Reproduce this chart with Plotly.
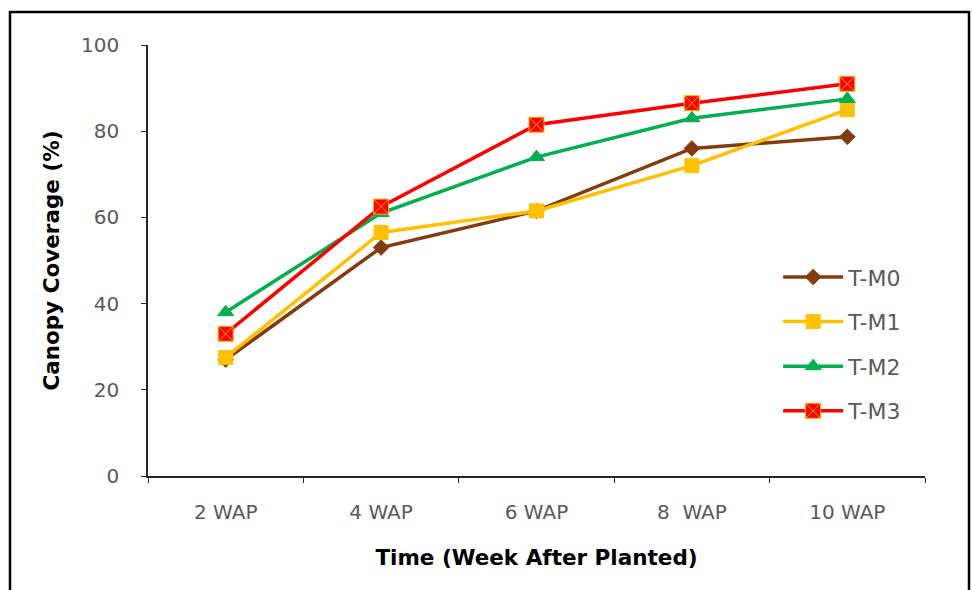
import plotly.graph_objects as go

categories = ["2 WAP", "4 WAP", "6 WAP", "8  WAP", "10 WAP"]
series_names = ["T-M0", "T-M1", "T-M2", "T-M3"]
t_m0 = [27.0, 53.0, 61.5, 76.0, 78.7]
t_m1 = [27.5, 56.5, 61.5, 72.0, 85.0]
t_m2 = [38.0, 61.0, 74.0, 83.0, 87.5]
t_m3 = [33.0, 62.5, 81.5, 86.5, 91.0]
y_ticks = [0, 20, 40, 60, 80, 100]

colors = ["#843C0C", "#FFC000", "#00B050", "#FF0000"]
symbols = ["diamond", "square", "triangle-up", "square-x"]
sizes = [12, 14, 14, 15]
line_cols = ["#843C0C", "#FFC000", "#00B050", "#FFB000"]

fig = go.Figure()
for name, vals, c, s, sz, lc in zip(series_names, [t_m0, t_m1, t_m2, t_m3], colors, symbols, sizes, line_cols):
    fig.add_trace(go.Scatter(
        x=categories, y=vals, name=name, legendgroup=name, mode="lines+markers",
        line=dict(color=c, width=3.5),
        marker=dict(symbol=s, size=sz, color=c, line=dict(color=lc, width=1)),
    ))

font_family = "'DejaVu Sans', sans-serif"
fig.update_layout(
    width=973, height=590,
    margin=dict(l=148, r=48, t=45, b=114),
    paper_bgcolor="white", plot_bgcolor="white",
    font=dict(family=font_family, color="#595959", size=20),
    showlegend=True,
    legend=dict(x=0.811, y=0.51, xanchor="left", yanchor="top",
                font=dict(size=22, color="#595959", family=font_family),
                bgcolor="rgba(0,0,0,0)", tracegroupgap=13, itemwidth=60),
    xaxis=dict(
        type="category", showgrid=False, showline=True, linecolor="#262626", linewidth=1.5,
        ticks="outside", tickson="boundaries", ticklen=5, tickcolor="#262626",
        ticklabelstandoff=17,
        tickfont=dict(size=20, color="#595959", family=font_family),
        title=dict(text="<b>Time (Week After Planted)</b>", font=dict(size=21.5, color="black", family=font_family), standoff=27),
        range=[-0.5, 4.5],
    ),
    yaxis=dict(
        range=[0, 100], tickvals=y_ticks, showgrid=False, zeroline=False,
        showline=True, linecolor="#262626", linewidth=1.5,
        ticks="outside", ticklen=5, tickcolor="#262626", ticklabelstandoff=18,
        tickfont=dict(size=20, color="#595959", family=font_family),
        title=dict(text="<b>Canopy Coverage (%)</b>", font=dict(size=21.5, color="black", family=font_family), standoff=16),
    ),
    shapes=[dict(type="rect", xref="paper", yref="paper",
                 x0=(10 - 148) / 777, x1=(969 - 148) / 777,
                 y0=-0.35, y1=(476 - 12) / 431,
                 line=dict(color="black", width=2.5), fillcolor="rgba(0,0,0,0)", layer="below")],
)

fig.write_html("out.html")
